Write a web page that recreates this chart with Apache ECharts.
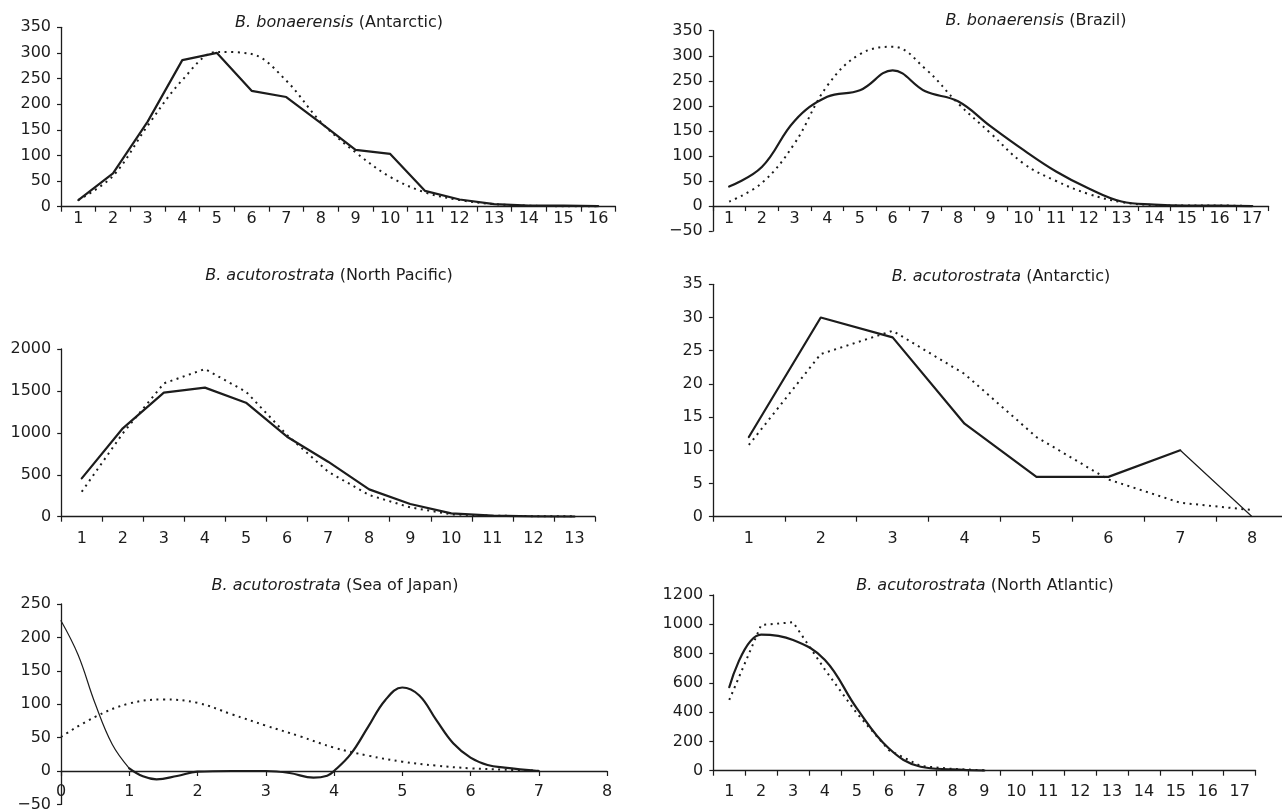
<!DOCTYPE html>
<html><head><meta charset="utf-8">
<script src="https://cdn.jsdelivr.net/npm/echarts@6/dist/echarts.min.js"></script>
<style>html,body{margin:0;padding:0;background:#fff}#c{width:1282px;height:811px}</style>
</head><body><div id="c"></div>
<script>
// ---- data ----
const panelTitles = [
  ['B. bonaerensis', ' (Antarctic)'],
  ['B. bonaerensis', ' (Brazil)'],
  ['B. acutorostrata', ' (North Pacific)'],
  ['B. acutorostrata', ' (Antarctic)'],
  ['B. acutorostrata', ' (Sea of Japan)'],
  ['B. acutorostrata', ' (North Atlantic)']
];
const agesBonAnt = ['1','2','3','4','5','6','7','8','9','10','11','12','13','14','15','16'];
const obsBonAnt = [13, 65, 166, 286, 300, 226, 214, 163, 111, 103, 31, 14, 5, 2, 2, 1];
const fitBonAnt = [13, 60, 158, 247, 302, 298, 246, 165, 106, 58, 28, 13, 5, 2, 1, 1];

const agesBonBra = ['1','2','3','4','5','6','7','8','9','10','11','12','13','14','15','16','17'];
const obsBonBra = [39, 78, 170, 218, 231, 271, 229, 209, 159, 112, 69, 35, 9, 3, 1, 1, 0];
const fitBonBra = [9, 46, 125, 240, 303, 318, 274, 205, 145, 85, 50, 24, 8, 2, 1, 1, 0];

const agesAcuNP = ['1','2','3','4','5','6','7','8','9','10','11','12','13'];
const obsAcuNP = [457, 1054, 1479, 1539, 1360, 954, 656, 326, 151, 40, 12, 4, 0];
const fitAcuNP = [298, 994, 1590, 1761, 1491, 974, 537, 258, 111, 28, 12, 6, 6];

const agesAcuAnt = ['1','2','3','4','5','6','7','8'];
const obsAcuAnt = [12, 30, 27, 14, 6, 6, 10, 0];
const fitAcuAnt = [10.8, 24.5, 28, 21.5, 12, 5.6, 2.1, 1];

const sojObsX = [0, 0.25, 0.5, 0.75, 1, 1.2, 1.4, 1.7, 2, 2.5, 3, 3.35, 3.7, 3.9, 4, 4.25, 4.5, 4.75, 5, 5.25, 5.5, 5.75, 6, 6.25, 6.5, 7];
const sojObs  = [225, 174, 101, 40, 4, -8, -12.5, -7.5, -1, 0, 0, -3, -10, -7, 0, 26, 66, 106, 125, 113, 76, 41, 20, 9, 5, 0];
const sojFitX = [0, 0.5, 1, 1.5, 2, 2.5, 3, 3.5, 4, 4.5, 5, 5.5, 6, 6.5, 7];
const sojFit  = [51, 81, 101, 107, 102, 85, 68, 52, 35, 23, 14, 8, 4, 2, 0.5];
const sojXRange = [0, 8, 1];

const agesAcuNA = ['1','2','3','4','5','6','7','8','9','10','11','12','13','14','15','16','17'];
const obsAcuNA = [570, 930, 893, 756, 426, 153, 27, 9, 1];
const fitAcuNA = [483, 995, 1014, 690, 392, 141, 32, 12, 3];

// y-axis ranges [min, max, interval]
const yRanges = [[0,350,50],[-50,350,50],[0,2000,500],[0,35,5],[-50,250,50],[0,1200,200]];

// ---- layout ----
const INK = '#1c1c1c';
const FONT = 'DejaVu Sans';
const grids = [
  {left: 61, top: 27.3, width: 554.5, height: 179.4},
  {left: 712.8, top: 30.7, width: 555.8, height: 200.4},
  {left: 61.2, top: 349, width: 533.8, height: 167.7},
  {left: 712.9, top: 284.3, width: 575.2, height: 232.4},
  {left: 61, top: 604, width: 546, height: 200.4},
  {left: 713.3, top: 595, width: 542.3, height: 175.7}
];
// label offsets (labels are laid out from the grid's bottom edge)
const xMargins = [4, -20, 14, 14, -21, 13];
const titlePos = [[339, 23], [1036, 21], [329, 276], [1001, 276.5], [335, 585.5], [985, 585.5]];
const xCats = [agesBonAnt, agesBonBra, agesAcuNP, agesAcuAnt, null, agesAcuNA];

const axisLine = {show: true, onZero: true, lineStyle: {color: INK, width: 1.3}};
const labelStyle = {color: INK, fontFamily: FONT, fontSize: 16};
const fmt = v => v < 0 ? '\u2212' + Math.abs(v) : String(v);

const xAxes = xCats.map((cats, i) => {
  const base = {
    gridIndex: i,
    axisLine: axisLine,
    axisTick: {show: true, length: 5, lineStyle: {color: INK, width: 1.2}},
    axisLabel: Object.assign({margin: xMargins[i], hideOverlap: false}, labelStyle),
    splitLine: {show: false}
  };
  if (cats) return Object.assign(base, {type: 'category', data: cats, boundaryGap: true});
  return Object.assign(base, {type: 'value', min: sojXRange[0], max: sojXRange[1], interval: sojXRange[2]});
});

const yAxes = yRanges.map((r, i) => ({
  gridIndex: i, type: 'value', min: r[0], max: r[1], interval: r[2],
  axisLine: {show: true, onZero: false, lineStyle: {color: INK, width: 1.3}},
  axisTick: {show: true, length: 4, lineStyle: {color: INK, width: 1.2}},
  axisLabel: Object.assign({margin: 10, formatter: fmt}, labelStyle),
  splitLine: {show: false}
}));

function line(i, data, dotted, smooth, width) {
  return {
    type: 'line', xAxisIndex: i, yAxisIndex: i, data: data,
    symbol: 'none', smooth: smooth, connectNulls: false, silent: true,
    lineStyle: dotted ? {color: INK, width: 2, type: [2, 4.5], cap: 'butt'}
                      : {color: INK, width: width || 2.2, cap: 'round', join: 'round'},
    z: dotted ? 2 : 3
  };
}
const pairs = (xs, ys) => xs.map((x, k) => [x, ys[k]]);

// Antarctic minke: last segment drawn thin
const acuAntThick = obsAcuAnt.map((v, k) => k <= 6 ? v : null);
const acuAntThin = obsAcuAnt.map((v, k) => k >= 6 ? v : null);
// Sea of Japan: first falling part drawn thin
const sojPairs = pairs(sojObsX, sojObs);
const sojThin = sojPairs.filter(p => p[0] <= 1);
const sojThick = sojPairs.filter(p => p[0] >= 1);

const series = [
  line(0, fitBonAnt, true, 0.35), line(0, obsBonAnt, false, false),
  line(1, fitBonBra, true, 0.4), line(1, obsBonBra, false, 0.4),
  line(2, fitAcuNP, true, false), line(2, obsAcuNP, false, false),
  line(3, fitAcuAnt, true, false), line(3, acuAntThick, false, false), line(3, acuAntThin, false, false, 1.2),
  line(4, pairs(sojFitX, sojFit), true, 0.4), line(4, sojThin, false, 0.4, 1.2), line(4, sojThick, false, 0.4),
  line(5, fitAcuNA, true, false), line(5, obsAcuNA, false, 0.4)
];

const graphics = panelTitles.map((t, i) => ({
  type: 'text', x: titlePos[i][0], y: titlePos[i][1], silent: true,
  style: {
    text: '{it|' + t[0] + '}{rm|' + t[1] + '}',
    align: 'center', verticalAlign: 'middle',
    rich: {
      it: {fontFamily: FONT, fontSize: 16, fontStyle: 'italic', fill: INK, color: INK},
      rm: {fontFamily: FONT, fontSize: 16, fill: INK, color: INK}
    }
  }
}));

const chart = echarts.init(document.getElementById('c'), null, {renderer: 'canvas'});
chart.setOption({
  backgroundColor: '#ffffff',
  animation: false,
  grid: grids.map(g => Object.assign({containLabel: false, outerBoundsMode: 'none'}, g)),
  xAxis: xAxes,
  yAxis: yAxes,
  series: series,
  graphic: graphics
});
</script>
</body></html>
